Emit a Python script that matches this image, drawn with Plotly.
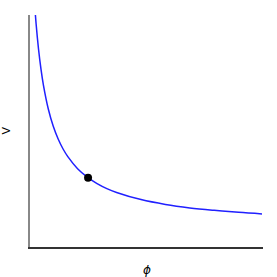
import plotly.graph_objects as go

phi = [0.62, 0.7, 0.8, 0.9, 1.0, 1.2, 1.4, 1.6, 1.8, 2.0, 2.4, 2.8, 3.2, 3.6, 4.0, 5.0, 6.0, 7.0, 8.0, 9.0, 9.96]
V = [1.743, 1.559, 1.381, 1.242, 1.131, 0.964, 0.845, 0.756, 0.686, 0.631, 0.547, 0.488, 0.443, 0.408, 0.381, 0.331, 0.297, 0.273, 0.256, 0.242, 0.231]
dot_phi = [2.83]
dot_V = [0.484]
x_label = "ϕ"
y_label = "V"

fig = go.Figure()
fig.add_trace(go.Scatter(x=phi, y=V, mode="lines", line=dict(color="#2020ff", width=1.5, shape="spline"),
                         hoverinfo="skip"))
fig.add_trace(go.Scatter(x=dot_phi, y=dot_V, mode="markers", marker=dict(color="black", size=8),
                         hoverinfo="skip"))

fig.update_layout(
    width=277, height=277,
    margin=dict(l=30, r=14, t=15, b=30, autoexpand=False),
    plot_bgcolor="white", paper_bgcolor="white",
    showlegend=False,
    font=dict(family="DejaVu Sans", size=11, color="black"),
    xaxis=dict(range=[0.45, 10], showgrid=False, zeroline=False, showticklabels=False, ticks="",
               showline=True, linecolor="#333333", linewidth=2, automargin=False),
    yaxis=dict(range=[0, 1.62], showgrid=False, zeroline=False, showticklabels=False, ticks="",
               showline=True, linecolor="#888888", linewidth=2, automargin=False),
    annotations=[
        dict(text="<i>" + x_label + "</i>", xref="paper", yref="paper", x=0.5, y=-23 / 232,
             xanchor="center", yanchor="middle", showarrow=False, font=dict(size=12)),
        dict(text=y_label, xref="paper", yref="paper", x=-24.5 / 233, y=0.5,
             xanchor="center", yanchor="middle", showarrow=False, textangle=-90, font=dict(size=11)),
    ],
)
fig.write_html("out.html", config={"displayModeBar": False},
               post_script="document.body.style.margin='0';document.body.style.padding='0';")
